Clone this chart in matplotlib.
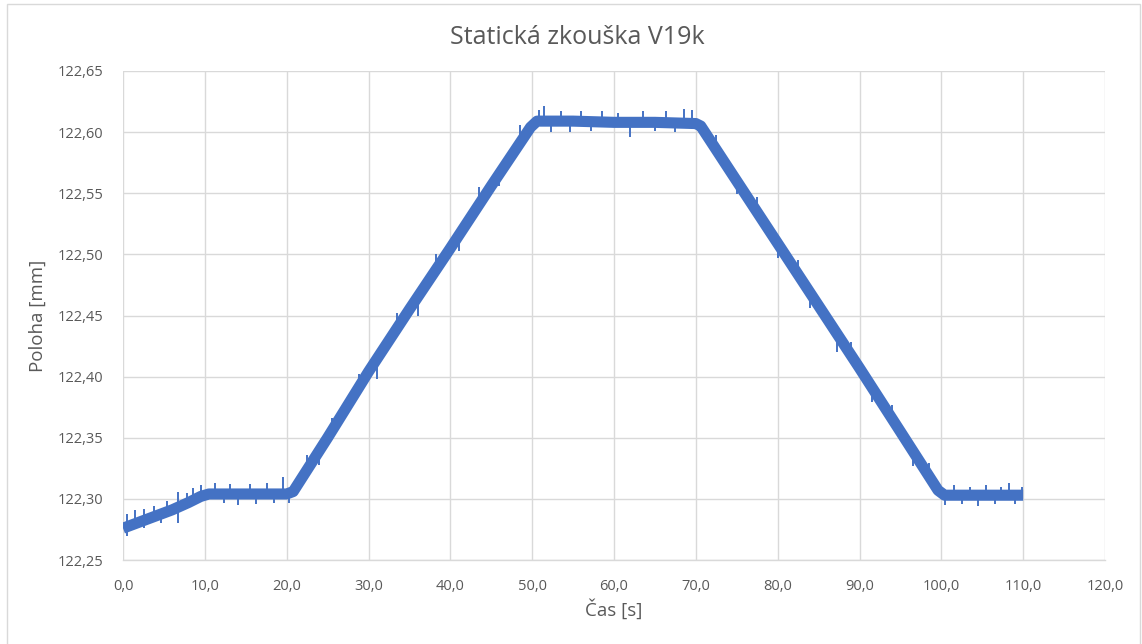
import matplotlib
matplotlib.use("Agg")
import matplotlib.pyplot as plt
from matplotlib.ticker import FuncFormatter, MultipleLocator
from matplotlib.patches import Rectangle

# Position trace of the static test: centre of the measured band
time_s = [0.0, 2.0, 4.0, 6.0, 8.0, 9.5, 10.5, 15.0, 20.0, 20.8,
          25.0, 30.0, 35.0, 40.0, 45.0, 49.8, 50.6, 55.0, 60.0, 65.0, 70.0, 70.6,
          75.0, 80.0, 85.0, 90.0, 95.0, 99.6, 100.4, 105.0, 110.0]
position_mm = [122.276, 122.281, 122.286, 122.291, 122.297, 122.302, 122.304, 122.304, 122.304, 122.306,
               122.350, 122.404, 122.455, 122.505, 122.556, 122.604, 122.609, 122.609, 122.608, 122.608, 122.607, 122.605,
               122.560, 122.509, 122.458, 122.407, 122.355, 122.307, 122.303, 122.303, 122.303]

# Noise excursions around the band: time, lower and upper reading
spike_t = [0.5, 1.5, 2.6, 3.8, 4.6, 5.4, 6.7, 7.8, 8.6, 9.5,
           11.2, 12.3, 13.1, 14.0, 15.5, 16.3, 17.6, 18.4, 19.5, 20.3,
           22.5, 24.0, 25.5, 28.8, 31.0, 33.5, 36.0, 38.3, 41.0, 43.5, 46.0, 48.5,
           50.8, 51.5, 52.3, 53.5, 54.6, 56.0, 57.2, 58.5, 60.5, 62.0, 63.5, 65.0,
           66.3, 67.5, 68.6, 69.5,
           72.5, 75.0, 77.5, 80.0, 82.5, 83.9, 87.3, 89.0, 91.5, 94.0, 96.5, 98.5,
           100.5, 101.5, 102.5, 103.5, 104.5, 105.5, 106.5, 107.3, 108.3, 109.0, 109.8]
spike_lo = [122.270, 122.280, 122.276, 122.286, 122.280, 122.290, 122.280, 122.297, 122.299, 122.302,
            122.304, 122.297, 122.304, 122.295, 122.304, 122.296, 122.304, 122.297, 122.304, 122.297,
            122.324, 122.328, 122.355, 122.389, 122.398, 122.438, 122.450, 122.487, 122.503, 122.541, 122.556, 122.593,
            122.608, 122.608, 122.600, 122.608, 122.600, 122.608, 122.601, 122.608, 122.608, 122.596, 122.608, 122.601,
            122.608, 122.600, 122.608, 122.608,
            122.586, 122.549, 122.535, 122.497, 122.483, 122.456, 122.420, 122.416, 122.379, 122.365, 122.327, 122.319,
            122.295, 122.303, 122.296, 122.303, 122.294, 122.303, 122.296, 122.303, 122.303, 122.296, 122.303]
spike_hi = [122.288, 122.291, 122.292, 122.294, 122.288, 122.298, 122.306, 122.305, 122.309, 122.311,
            122.313, 122.304, 122.312, 122.304, 122.312, 122.304, 122.313, 122.304, 122.318, 122.305,
            122.336, 122.339, 122.366, 122.402, 122.412, 122.452, 122.463, 122.500, 122.515, 122.555, 122.567, 122.606,
            122.618, 122.621, 122.608, 122.617, 122.608, 122.617, 122.608, 122.617, 122.616, 122.608, 122.617, 122.608,
            122.617, 122.608, 122.619, 122.618,
            122.598, 122.561, 122.547, 122.509, 122.495, 122.469, 122.434, 122.428, 122.391, 122.377, 122.339, 122.329,
            122.303, 122.311, 122.303, 122.310, 122.303, 122.311, 122.303, 122.310, 122.313, 122.303, 122.310]

x_ticks = [0, 10, 20, 30, 40, 50, 60, 70, 80, 90, 100, 110, 120]

blue = "#4472C4"
grid_c = "#D9D9D9"
text_c = "#595959"
font = ["Open Sans", "DejaVu Sans"]

plt.rcParams["font.family"] = font

fig = plt.figure(figsize=(11.42, 6.44), dpi=100)
fig.patch.set_facecolor("white")
fig.patches.append(Rectangle((7 / 1142, -0.01), (1140 - 7) / 1142, 1 - 4 / 644 + 0.01,
                             transform=fig.transFigure, fill=False,
                             edgecolor=grid_c, linewidth=1.0))

ax = fig.add_axes([123 / 1142, 1 - 560 / 644, (1105 - 123) / 1142, (560 - 71) / 644])

ax.plot(time_s, position_mm, color=blue, linewidth=8.0, solid_joinstyle="round",
        solid_capstyle="butt", zorder=3)
ax.vlines(spike_t, spike_lo, spike_hi, color=blue, linewidth=1.4, zorder=3)

ax.set_xlim(0, 120)
ax.set_ylim(122.25, 122.65)
ax.set_xticks(x_ticks)
ax.yaxis.set_major_locator(MultipleLocator(0.05))
ax.xaxis.set_major_formatter(FuncFormatter(lambda v, p: f"{v:.1f}".replace(".", ",")))
ax.yaxis.set_major_formatter(FuncFormatter(lambda v, p: f"{v:.2f}".replace(".", ",")))

ax.grid(True, color=grid_c, linewidth=1.0, zorder=0)
ax.set_axisbelow(True)
for s in ["top", "right", "left"]:
    ax.spines[s].set_visible(False)
ax.spines["bottom"].set_color(grid_c)
ax.spines["bottom"].set_linewidth(1.0)
ax.tick_params(axis="both", length=0, colors=text_c, labelsize=10.5)
ax.tick_params(axis="x", pad=14)
ax.tick_params(axis="y", pad=14)

ax.set_xlabel("Čas [s]", fontsize=13.5, color=text_c, labelpad=3)
ax.set_ylabel("Poloha [mm]", fontsize=13.5, color=text_c, labelpad=8)
fig.text(577 / 1142, 1 - 37 / 644, "Statická zkouška V19k", ha="center", va="center",
         fontsize=18, color=text_c)

fig.savefig("out.png", dpi=100, facecolor="white")
